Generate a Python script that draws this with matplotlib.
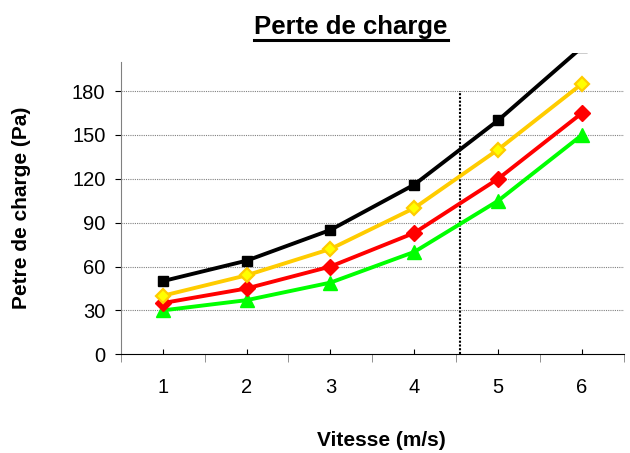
import matplotlib
matplotlib.use("Agg")
import matplotlib.pyplot as plt
from matplotlib.lines import Line2D

plt.rcParams['font.family'] = ['Liberation Sans', 'DejaVu Sans']

# data
vitesse = [1, 2, 3, 4, 5, 6]
serie_noire = [50, 64, 85, 116, 160, 210]
serie_jaune = [40, 54, 72, 100, 140, 185]
serie_rouge = [35, 45, 60, 83, 120, 165]
serie_verte = [30, 37, 49, 70, 105, 150]
y_ticks = [0, 30, 60, 90, 120, 150, 180]
repere_x = 4.54  # dotted vertical marker line

fig = plt.figure(figsize=(6.3, 4.53), dpi=100)
ax = fig.add_axes([0.1916, 0.2179, 0.7989, 0.6651])

ax.plot(vitesse, serie_noire, color='black', lw=2.8, marker='s', ms=7,
        mfc='black', mec='black', zorder=5)
ax.plot(vitesse, serie_jaune, color='#FFCC00', lw=2.8, marker='D', ms=7.5,
        mfc='#FFFF00', mec='#FFCC00', mew=1.6, zorder=4)
ax.plot(vitesse, serie_rouge, color='#FF0000', lw=2.8, marker='D', ms=8,
        mfc='#FF0000', mec='#FF0000', zorder=3)
ax.plot(vitesse, serie_verte, color='#00FF00', lw=2.8, marker='^', ms=9.5,
        mfc='#00FF00', mec='#00FF00', zorder=2)

ax.vlines(repere_x, 0, 180, colors='black', linestyles=(0, (1, 0.8)), lw=1.5, zorder=1)

ax.set_xlim(0.5, 6.5)
ax.set_ylim(0, 206)
ax.set_yticks(y_ticks)
ax.set_xticks(vitesse)
ax.set_xticks([v - 0.5 for v in vitesse] + [6.5], minor=True)

for y in y_ticks[1:]:
    ax.axhline(y, color='#808080', lw=0.8, ls=(0, (1, 1)), zorder=0)

for s in ['top', 'right']:
    ax.spines[s].set_visible(False)
ax.spines['left'].set_bounds(0, 200)
ax.spines['left'].set_color('#808080')
ax.spines['bottom'].set_color('black')

ax.tick_params(axis='x', which='major', direction='in', length=3.6, pad=17,
               labelsize=14.5, color='black')
ax.tick_params(axis='x', which='minor', direction='out', length=5.5,
               color='#808080')
ax.tick_params(axis='y', direction='out', length=4, pad=7, labelsize=14.5,
               color='black')

fig.text(22 / 630, 1 - 208 / 453, 'Petre de charge (Pa)', fontsize=15,
         fontweight='bold', rotation=90, ha='center', va='center')
fig.text(381 / 630, 1 - 440 / 453, 'Vitesse (m/s)', fontsize=15,
         fontweight='bold', ha='center', va='center')

titre = fig.text(351 / 630, 1 - 27 / 453, 'Perte de charge', fontsize=18.5,
                 fontweight='bold', ha='center', va='center')

# underline the title
fig.canvas.draw()
bb = titre.get_window_extent().transformed(fig.transFigure.inverted())
fig.add_artist(Line2D([bb.x0, bb.x1], [bb.y0 - 0.002, bb.y0 - 0.002],
                      transform=fig.transFigure, color='black', lw=2.2))

fig.savefig('out.png', dpi=100)
